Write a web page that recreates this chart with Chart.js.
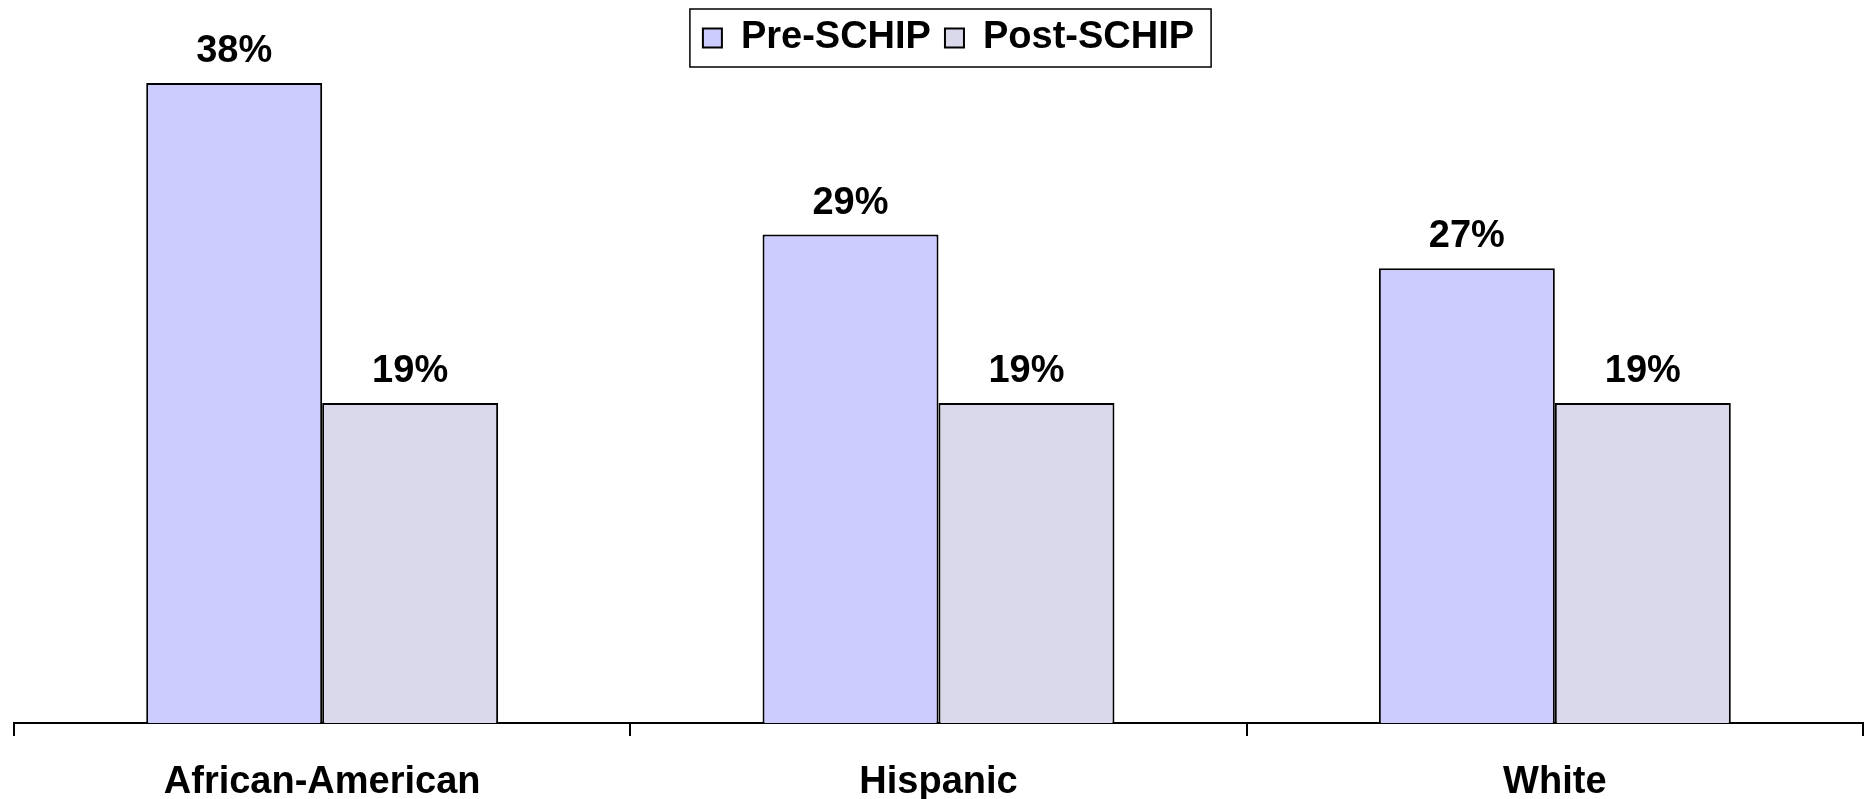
<!DOCTYPE html>
<html lang="en">
<head>
    <meta charset="UTF-8">
    <title>Pre-SCHIP / Post-SCHIP</title>
    <script src="https://cdn.jsdelivr.net/npm/chart.js"></script>
    <style>
        html, body { margin: 0; padding: 0; background: #fff; }
        #wrap { width: 1873px; height: 799px; }
    </style>
</head>
<body>
    <div id="wrap"><canvas id="schipChart"></canvas></div>

    <script>
        // data
        const categories = ['African-American', 'Hispanic', 'White'];
        const preSchip = [38, 29, 27];
        const postSchip = [19, 19, 19];

        const fontFamily = '"Liberation Sans", Arial, Helvetica, sans-serif';
        const legendShift = 10; // legend sits a bit right of centre in the original

        // value labels above the bars
        const valueLabels = {
            id: 'valueLabels',
            afterDatasetsDraw(chart) {
                const ctx = chart.ctx;
                ctx.save();
                ctx.font = 'bold 38px ' + fontFamily;
                ctx.fillStyle = '#000';
                ctx.textAlign = 'center';
                ctx.textBaseline = 'alphabetic';
                chart.data.datasets.forEach((ds, i) => {
                    chart.getDatasetMeta(i).data.forEach((bar, j) => {
                        ctx.fillText(ds.data[j] + '%', bar.x, bar.y - 21);
                    });
                });
                ctx.restore();
            }
        };

        // move legend a little, and frame it
        const legendFrame = {
            id: 'legendFrame',
            afterLayout(chart) {
                chart.legend.left += legendShift;
                chart.legend.right += legendShift;
            },
            afterDraw(chart) {
                const lg = chart.legend;
                const boxes = lg.legendHitBoxes;
                if (!boxes || !boxes.length) return;
                const left = Math.min(...boxes.map(b => b.left)) - 13;
                const right = Math.max(...boxes.map(b => b.left + b.width)) + 17;
                const mid = boxes[0].top + boxes[0].height / 2;
                const ctx = chart.ctx;
                ctx.save();
                ctx.strokeStyle = '#000';
                ctx.lineWidth = 1.5;
                ctx.strokeRect(left, mid - 29, right - left, 58);
                ctx.restore();
            }
        };

        const ctx = document.getElementById('schipChart').getContext('2d');
        new Chart(ctx, {
            type: 'bar',
            data: {
                labels: categories,
                datasets: [
                    {
                        label: 'Pre-SCHIP',
                        data: preSchip,
                        backgroundColor: '#CCCCFF',
                        borderColor: '#000',
                        borderWidth: 2
                    },
                    {
                        label: 'Post-SCHIP',
                        data: postSchip,
                        backgroundColor: '#DAD9EC',
                        borderColor: '#000',
                        borderWidth: 2
                    }
                ]
            },
            options: {
                responsive: true,
                maintainAspectRatio: false,
                animation: false,
                categoryPercentage: 0.571,
                barPercentage: 1.0,
                layout: {
                    padding: { top: 5, left: 14, right: 10, bottom: 0 }
                },
                plugins: {
                    legend: {
                        position: 'top',
                        labels: {
                            boxWidth: 19,
                            boxHeight: 19,
                            padding: 14,
                            color: '#000',
                            font: { family: fontFamily, size: 38, weight: 'bold', lineHeight: 1 }
                        }
                    },
                    tooltip: { enabled: false }
                },
                scales: {
                    x: {
                        border: { display: true, color: '#000', width: 2 },
                        grid: {
                            display: true,
                            drawOnChartArea: false,
                            color: '#000',
                            lineWidth: 2,
                            tickLength: 13,
                            offset: true
                        },
                        ticks: {
                            color: '#000',
                            padding: 28,
                            maxRotation: 0,
                            font: { family: fontFamily, size: 38, weight: 'bold', lineHeight: 1 }
                        },
                        afterFit(scale) { scale.height = 76; }
                    },
                    y: {
                        display: false,
                        beginAtZero: true,
                        min: 0,
                        max: 38.95
                    }
                }
            },
            plugins: [valueLabels, legendFrame]
        });
    </script>
</body>
</html>
